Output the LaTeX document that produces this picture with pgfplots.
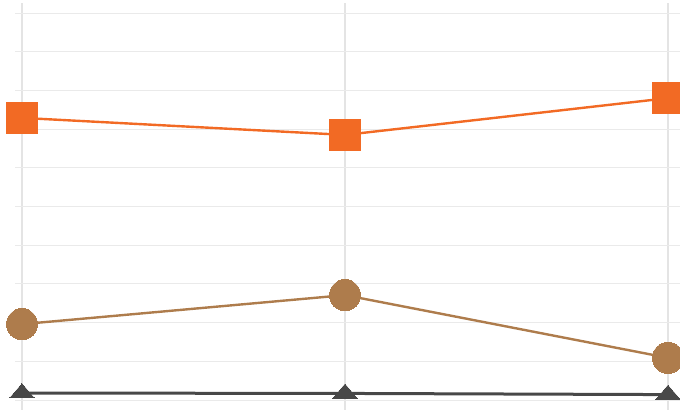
\documentclass[border=0pt]{standalone}
\usepackage{pgfplots}
\pgfplotsset{compat=1.18}
\definecolor{cOrange}{RGB}{242,106,36}
\definecolor{cBrown}{RGB}{174,124,76}
\definecolor{cDark}{RGB}{72,72,72}
\definecolor{gridH}{RGB}{234,234,234}
\definecolor{gridV}{RGB}{228,228,228}
\begin{document}
\begin{tikzpicture}
\useasboundingbox (0,0) rectangle (340pt,204.5pt);
\clip (0,0) rectangle (340pt,204.5pt);
\begin{axis}[
  anchor=origin, at={(11pt,4.5pt)},
  x=161.5pt, y=19.35pt,
  xmin=-0.0217, xmax=2.2, ymin=-0.6, ymax=10.25,
  clip=false,
  xtick={0,1,2}, ytick={0,1,...,10},
  xticklabels={}, yticklabels={},
  axis line style={draw=none},
  tick style={draw=none},
  xmajorgrids, ymajorgrids,
  x grid style={gridV, line width=0.8pt},
  y grid style={gridH, line width=0.5pt},
]
\addplot[cDark, line width=1.5pt, mark=triangle*, mark size=7pt,
  mark options={yscale=0.67, fill=cDark, draw=cDark, line width=0pt}]
  coordinates {(0,0.18) (1,0.17) (2,0.14)};
\addplot[cBrown, line width=1.2pt, mark=*, mark size=7.75pt,
  mark options={fill=cBrown, draw=cBrown, line width=0pt}]
  coordinates {(0,1.96) (1,2.71) (2,1.09)};
\addplot[cOrange, line width=1.2pt, mark=square*, mark size=7.75pt,
  mark options={fill=cOrange, draw=cOrange, line width=0pt}]
  coordinates {(0,7.29) (1,6.85) (2,7.80)};
\end{axis}
\end{tikzpicture}
\end{document}
